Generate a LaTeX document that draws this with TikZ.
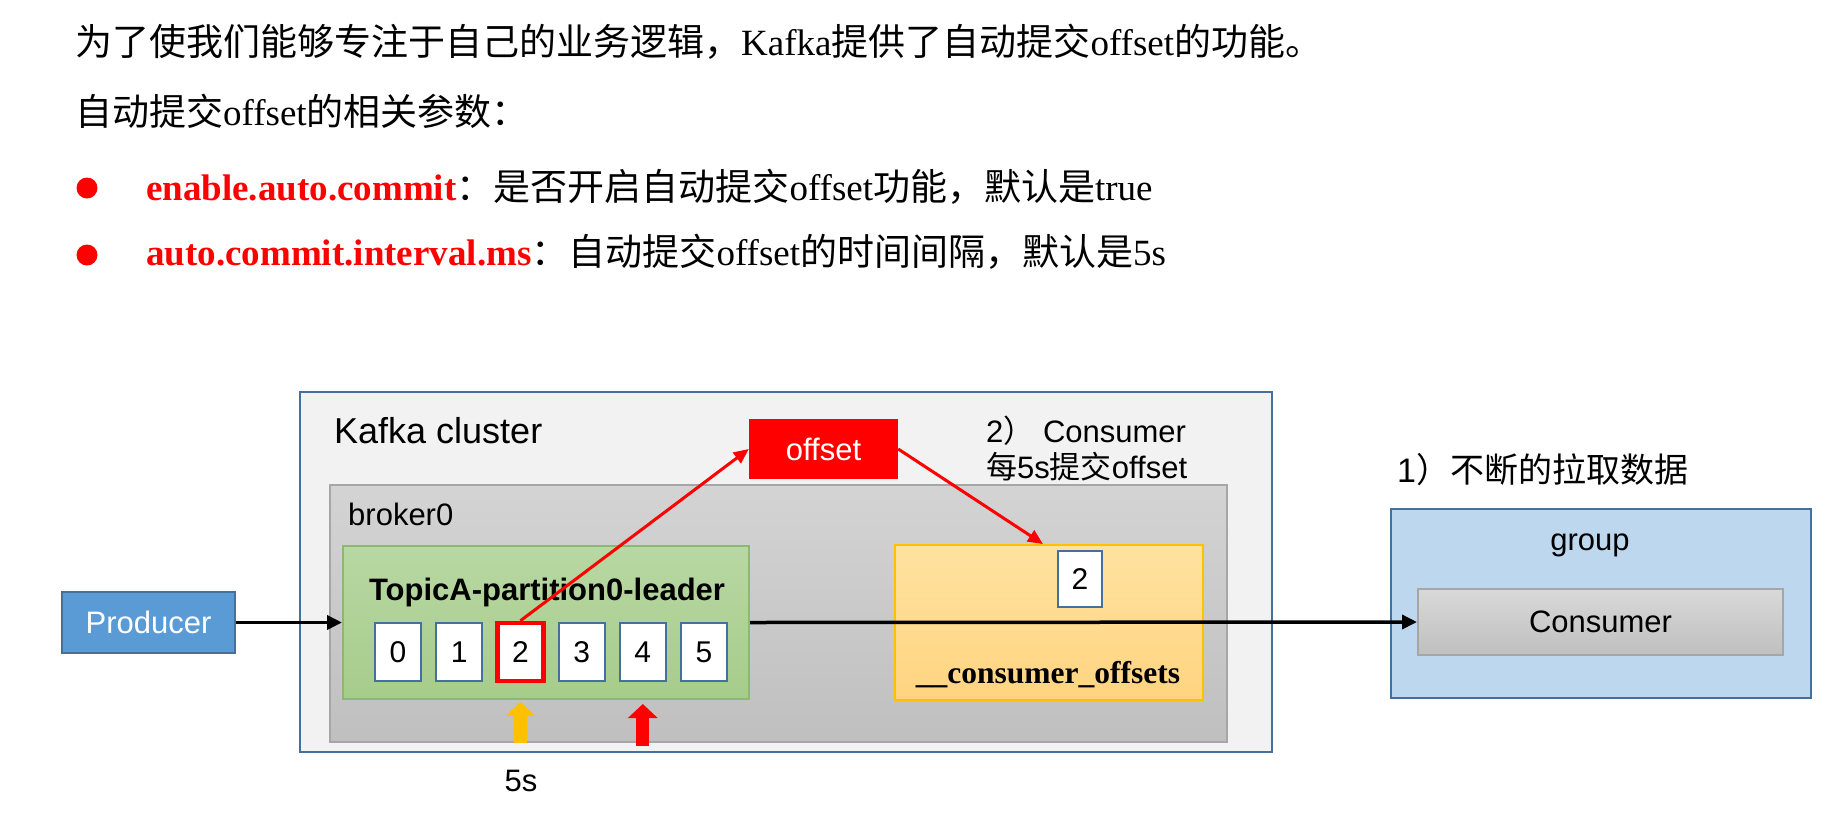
\documentclass[tikz,border=0pt]{standalone}
\usepackage{fontspec}
\setmainfont{Liberation Serif}
\newfontfamily\cjk{Noto Sans CJK SC}
\newfontfamily\arial{Liberation Sans}
\usepackage{xcolor}
\usepackage{tikz}
\usetikzlibrary{positioning,arrows.meta}
\definecolor{frameblue}{HTML}{41719C}
\definecolor{clusterfill}{HTML}{F2F2F2}
\definecolor{greyline}{HTML}{A6A6A6}
\definecolor{greenline}{HTML}{8DB872}
\definecolor{amber}{HTML}{FFC000}
\definecolor{prodblue}{HTML}{5B9BD5}
\definecolor{groupblue}{HTML}{BDD7EE}
\tikzset{
bodytext/.style={
anchor=base west,
inner sep=0pt,
font=\fontsize{37}{40}\selectfont
},
bulletdot/.style={
circle,
fill=red,
minimum size=21pt,
inner sep=0pt
},
diatext/.style={
inner sep=0pt,
font=\arial\fontsize{31}{36}\selectfont
},
panel/.style={
draw,
line width=2pt,
inner sep=0pt
},
cluster/.style={
panel,
draw=frameblue,
fill=clusterfill,
minimum width=972pt,
minimum height=360pt
},
broker/.style={
panel,
draw=greyline,
top color=black!17,
bottom color=black!25,
minimum width=897pt,
minimum height=257pt
},
partition/.style={
panel,
draw=greenline,
top color={rgb,255:red,184;green,216;blue,163},
bottom color={rgb,255:red,166;green,204;blue,139},
minimum width=406pt,
minimum height=153pt
},
offsbox/.style={
panel,
draw=amber,
top color={rgb,255:red,255;green,226;blue,160},
bottom color={rgb,255:red,255;green,212;blue,128},
minimum width=308pt,
minimum height=155pt
},
cell/.style={
panel,
draw=frameblue,
fill=white,
minimum width=46pt,
minimum height=58pt,
font=\arial\fontsize{30}{34}\selectfont
},
redcell/.style={
cell,
draw=red,
line width=4.5pt
},
offsettag/.style={
fill=red,
text=white,
minimum width=149pt,
minimum height=60pt,
inner sep=0pt,
font=\arial\fontsize{31}{36}\selectfont
},
prodbox/.style={
panel,
draw=frameblue,
fill=prodblue,
text=white,
minimum width=173pt,
minimum height=61pt,
font=\arial\fontsize{31}{36}\selectfont
},
groupbox/.style={
panel,
draw=frameblue,
fill=groupblue,
minimum width=420pt,
minimum height=189pt
},
consbox/.style={
panel,
draw=greyline,
top color=black!15,
bottom color=black!25,
minimum width=365pt,
minimum height=66pt,
font=\arial\fontsize{31}{36}\selectfont
},
flow/.style={
-{Triangle[length=15pt,width=14pt]},
line width=3.5pt
},
redflow/.style={
-{Triangle[length=15pt,width=13pt]},
line width=3pt,
red
},
pointer/.style={
-{Triangle[length=14pt,width=29pt]},
line width=13pt
}
}

\begin{document}
\begin{tikzpicture}[x=1pt,y=-1pt]
\useasboundingbox (0,0) rectangle (1836,812);

% text above the diagram
\node[bodytext](l1) at (75,55){{\cjk 为了使我们能够专注于自己的业务逻辑，}Kafka{\cjk 提供了自动提交}offset{\cjk 的功能。}};
\node[bodytext](l2) at (75,125){{\cjk 自动提交}offset{\cjk 的相关参数：}};
\node[bulletdot](b1) at (87,188){};
\node[bodytext](l3) at (146,200){{\bfseries\color{red}enable.auto.commit}{\cjk ：是否开启自动提交}offset{\cjk 功能，默认是}true};
\node[bulletdot](b2) at (87,255){};
\node[bodytext](l4) at (146,265){{\bfseries\color{red}auto.commit.interval.ms}{\cjk ：自动提交}offset{\cjk 的时间间隔，默认是}5s};

% cluster
\node[cluster](kc) at (786,572){};
\node[diatext,anchor=base west,font=\arial\fontsize{36}{40}\selectfont](kct) at (334,443){Kafka cluster};
\node[broker](br) at (778.5,613.5){};
\node[diatext,anchor=base west](brt) at (348,525){broker0};
\node[partition](pt) at (546,622.5){};
\node[diatext,anchor=base,font=\arial\bfseries\fontsize{31}{36}\selectfont](ptt) at (547,600){TopicA-partition0-leader};
\foreach \i/\st in {0/cell,1/cell,2/redcell,3/cell,4/cell,5/cell}
\node[\st](c\i) at (398+61.2*\i,652){\i};

\node[offsbox](ob) at (1049,622.5){};
\node[anchor=base,inner sep=0pt,font=\bfseries\fontsize{31.5}{36}\selectfont](obt) at (1048,683){\_\_consumer\_offsets};
\node[cell,minimum width=44pt,minimum height=56pt](oc) at (1080,579){2};

\node[offsettag](tag) at (823.5,449){offset};
\node[diatext,anchor=base west](n2a) at (986,442){2{\cjk ）} Consumer};
\node[diatext,anchor=base west](n2b) at (986,478){{\cjk 每}5s{\cjk 提交}offset};

% producer and consumer group
\node[prodbox](prod) at (148.5,622.5){Producer};
\node[groupbox](grp) at (1601,603.5){};
\node[diatext,anchor=base](grpt) at (1590,550){group};
\node[consbox](cons) at (1600.5,622){Consumer};
\node[diatext,anchor=base west,font=\arial\fontsize{34}{38}\selectfont](n1) at (1397,482){1{\cjk ）不断的拉取数据}};

\draw[flow](prod)--(pt);
\draw[flow](pt.east)--(cons.west);
\draw[redflow](c2.north)--(tag.west);
\draw[redflow](tag.east)--([xshift=-6pt]ob.north);

\draw[pointer,amber]([yshift=-43pt]c2 |- pt.south)--([yshift=-2pt]c2 |- pt.south);
\draw[pointer,red]([yshift=-46pt]c4 |- pt.south)--([yshift=-4pt]c4 |- pt.south);
\node[diatext,anchor=base](t5) at (521,791){5s};
\end{tikzpicture}
\end{document}
